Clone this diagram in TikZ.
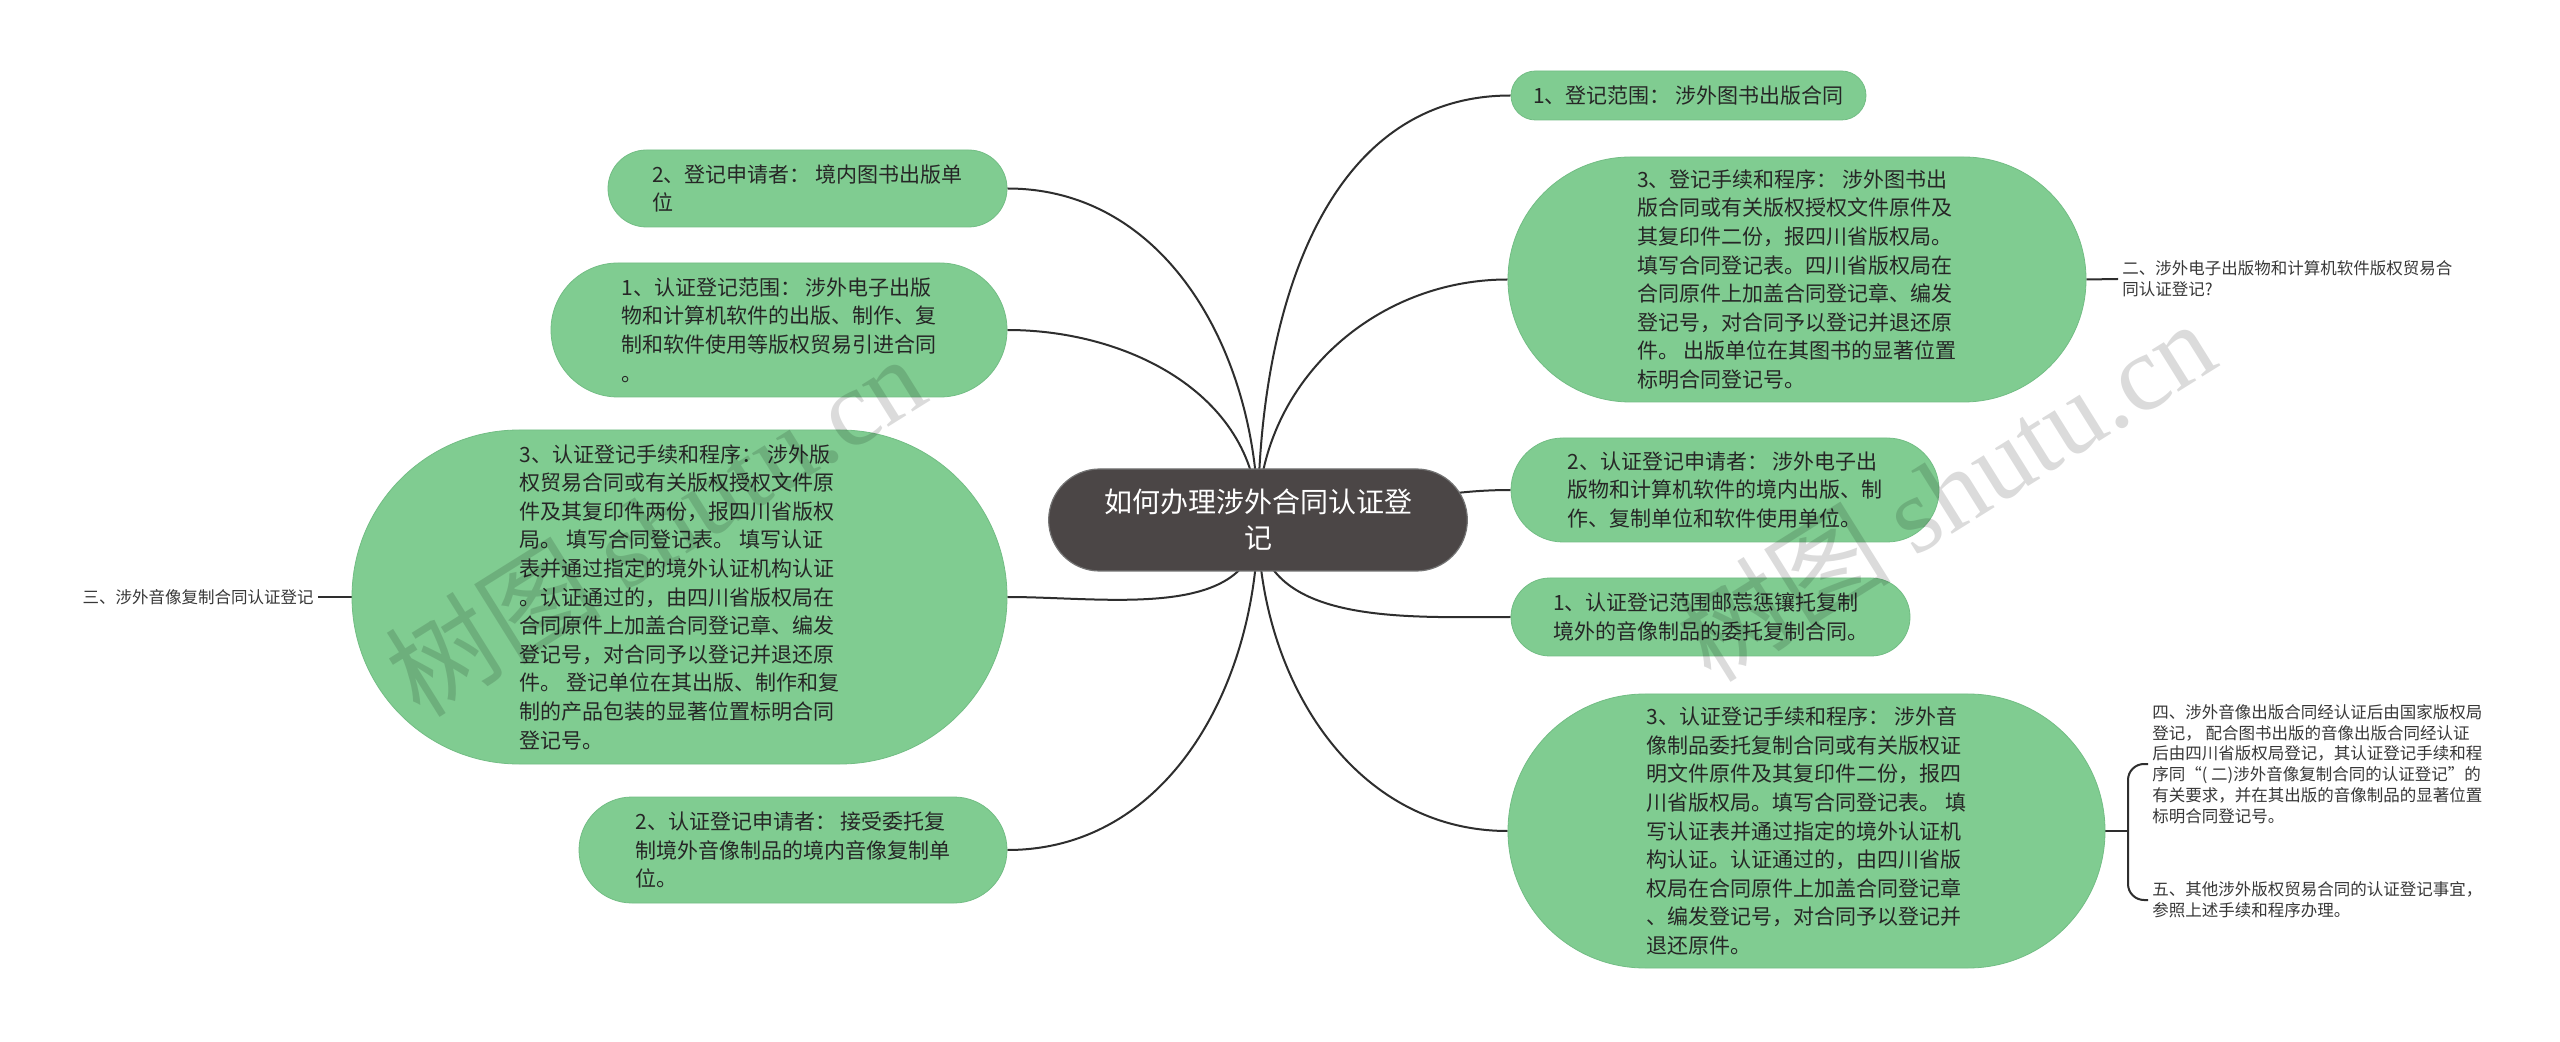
\documentclass[tikz,border=0pt]{standalone}
\usepackage{fontspec}
\setmainfont{Noto Sans CJK SC}
\newfontfamily\wmfont{Liberation Serif}
\usetikzlibrary{shapes.misc,backgrounds}
\definecolor{leafgreen}{HTML}{80CC91}
\definecolor{leafedge}{HTML}{72BD84}
\definecolor{rootgray}{HTML}{4B4646}
\definecolor{linkgray}{HTML}{2E2E2E}

\begin{document}
\begin{tikzpicture}[x=0.5pt,y=-0.5pt,line cap=round,
  link/.style={draw=linkgray,line width=1pt},
  leaf/.style={rounded rectangle,fill=leafgreen,draw=leafedge,line width=0.4pt,
    text=black!85,align=left,inner xsep=2pt,inner ysep=0pt,
    font=\fontsize{10.5pt}{14.3pt}\selectfont},
  root/.style={rounded rectangle,fill=rootgray,draw=black!55,line width=0.6pt,
    text=white,align=center,inner ysep=0pt,font=\fontsize{14pt}{18pt}\selectfont},
  note/.style={align=left,inner sep=2pt,text=black!78,
    font=\fontsize{8.25pt}{10.35pt}\selectfont},
  wmark/.style={rotate=32,text=black,text opacity=0.14,font=\fontsize{54pt}{54pt}\selectfont}]
\useasboundingbox (0,0) rectangle (2560,1042);

\node[root,minimum width=216pt,minimum height=51pt] (C) at (1258,520) {如何办理涉外合同认证登\\记};

\node[leaf,minimum width=203.5pt,minimum height=38.5pt] (L1) at (807.5,188.5)
  {2、登记申请者： 境内图书出版单\\位};
\node[leaf,minimum width=232pt,minimum height=67pt] (L2) at (779,330)
  {1、认证登记范围： 涉外电子出版\\物和计算机软件的出版、制作、复\\制和软件使用等版权贸易引进合同\\。};
\node[leaf,minimum width=331.5pt,minimum height=167pt] (L3) at (679.5,597)
  {3、认证登记手续和程序： 涉外版\\权贸易合同或有关版权授权文件原\\件及其复印件两份，报四川省版权\\局。 填写合同登记表。 填写认证\\表并通过指定的境外认证机构认证\\。认证通过的，由四川省版权局在\\合同原件上加盖合同登记章、编发\\登记号，对合同予以登记并退还原\\件。 登记单位在其出版、制作和复\\制的产品包装的显著位置标明合同\\登记号。};
\node[leaf,minimum width=218pt,minimum height=53pt] (L4) at (793,850)
  {2、认证登记申请者： 接受委托复\\制境外音像制品的境内音像复制单\\位。};

\node[leaf,minimum width=181.5pt,minimum height=24.5pt] (R1) at (1688.5,95.5)
  {1、登记范围： 涉外图书出版合同};
\node[leaf,minimum width=293pt,minimum height=122.5pt] (R2) at (1797,279.5)
  {3、登记手续和程序： 涉外图书出\\版合同或有关版权授权文件原件及\\其复印件二份，报四川省版权局。\\填写合同登记表。四川省版权局在\\合同原件上加盖合同登记章、编发\\登记号，对合同予以登记并退还原\\件。 出版单位在其图书的显著位置\\标明合同登记号。};
\node[leaf,minimum width=218pt,minimum height=52pt] (R3) at (1725,490)
  {2、认证登记申请者： 涉外电子出\\版物和计算机软件的境内出版、制\\作、复制单位和软件使用单位。};
\node[leaf,minimum width=203.5pt,minimum height=39pt] (R4) at (1710.5,617)
  {1、认证登记范围邮莣惩镶托复制\\境外的音像制品的委托复制合同。};
\node[leaf,minimum width=302.5pt,minimum height=137pt] (R5) at (1806.5,831)
  {3、认证登记手续和程序： 涉外音\\像制品委托复制合同或有关版权证\\明文件原件及其复印件二份，报四\\川省版权局。填写合同登记表。 填\\写认证表并通过指定的境外认证机\\构认证。认证通过的，由四川省版\\权局在合同原件上加盖合同登记章\\、编发登记号，对合同予以登记并\\退还原件。};

\node[note,anchor=east] (san) at (318,597) {三、涉外音像复制合同认证登记};
\node[note,anchor=west] (er) at (2118,279) {二、涉外电子出版物和计算机软件版权贸易合\\同认证登记?};
\node[note,anchor=west] (si) at (2148,764) {四、涉外音像出版合同经认证后由国家版权局\\登记， 配合图书出版的音像出版合同经认证\\后由四川省版权局登记，其认证登记手续和程\\序同“( 二)涉外音像复制合同的认证登记”的\\有关要求，并在其出版的音像制品的显著位置\\标明合同登记号。};
\node[note,anchor=west] (wu) at (2148,900) {五、其他涉外版权贸易合同的认证登记事宜，\\参照上述手续和程序办理。};
\coordinate (brace) at (2128,831);

\begin{pgfonlayer}{background}
\fill[white] (0,0) rectangle (2560,1042);
\draw[link] (C.center) to[out=90,in=0] (L1.east);
\draw[link] (C.center) to[out=90,in=0] (L2.east);
\draw[link] (C.center) to[out=270,in=0] (L3.east);
\draw[link] (C.center) to[out=270,in=0] (L4.east);
\draw[link] (C.center) to[out=90,in=180] (R1.west);
\draw[link] (C.center) to[out=90,in=180] (R2.west);
\draw[link] (C.center) to[out=0,in=180] (R3.west);
\draw[link] (C.center) to[out=270,in=180] (R4.west);
\draw[link] (C.center) to[out=270,in=180] (R5.west);
\draw[link] (san) -- (L3);
\draw[link] (R2.east) -- (er.west);
\draw[link] (R5.east) -- (brace);
\draw[link,rounded corners=8pt] (si.west) -| (brace) |- (wu.west);
\end{pgfonlayer}

\node[wmark] at (655,525) {树图 {\wmfont shutu.cn}};
\node[wmark] at (1945,490) {树图 {\wmfont shutu.cn}};
\end{tikzpicture}
\end{document}
